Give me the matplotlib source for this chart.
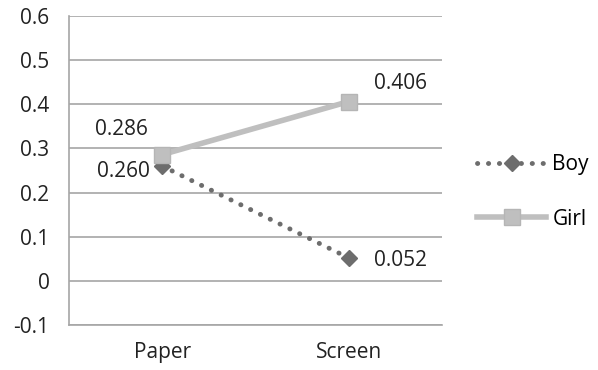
import numpy as np
import matplotlib.pyplot as plt

plt.rcParams['font.family'] = ['Open Sans', 'DejaVu Sans']

categories = ['Paper', 'Screen']
boy = [0.260, 0.052]
girl = [0.286, 0.406]
boy_labels = ['0.260', '0.052']
girl_labels = ['0.286', '0.406']

fig = plt.figure(figsize=(5.98, 3.70), dpi=100)
ax = fig.add_axes([0.1154, 0.1216, 0.6236, 0.8354])

x = np.arange(len(categories))
fs = 15

ax.plot(x, boy, color='#6d6d6d', linewidth=3.5, linestyle=(0, (0.05, 2.2)),
        dash_capstyle='round', marker='D', markersize=8, markeredgecolor='#6d6d6d',
        label='Boy', zorder=3)
ax.plot(x, girl, color='#bfbfbf', linewidth=4, marker='s', markersize=12,
        markeredgecolor='#b5b5b5', label='Girl', zorder=4)

# data labels
ax.annotate(girl_labels[0], (x[0], girl[0]), xytext=(-14, 25), textcoords='offset pixels',
            fontsize=fs, color='#222222', ha='right', va='center')
ax.annotate(boy_labels[0], (x[0], boy[0]), xytext=(-12, -5), textcoords='offset pixels',
            fontsize=fs, color='#222222', ha='right', va='center')
ax.annotate(girl_labels[1], (x[1], girl[1]), xytext=(25, 18), textcoords='offset pixels',
            fontsize=fs, color='#222222', ha='left', va='center')
ax.annotate(boy_labels[1], (x[1], boy[1]), xytext=(25, -3), textcoords='offset pixels',
            fontsize=fs, color='#222222', ha='left', va='center')

ax.set_xlim(-0.5, 1.5)
ax.set_ylim(-0.1, 0.6)
ax.set_xticks(x)
ax.set_xticklabels(categories)
ax.set_yticks(np.arange(-0.1, 0.61, 0.1))
ax.set_yticklabels(['-0.1', '0', '0.1', '0.2', '0.3', '0.4', '0.5', '0.6'])
ax.yaxis.grid(True, color='#a6a6a6', linewidth=1.2)
ax.set_axisbelow(True)
for s in ['top', 'right']:
    ax.spines[s].set_visible(False)
for s in ['left', 'bottom']:
    ax.spines[s].set_color('#a6a6a6')
    ax.spines[s].set_linewidth(1.2)
ax.tick_params(axis='y', length=0, labelsize=fs, pad=14, labelcolor='#222222')
ax.tick_params(axis='x', length=0, labelsize=fs, pad=12, labelcolor='#222222')

ax.legend(loc='center left', bbox_to_anchor=(1.045, 0.43), frameon=False, fontsize=fs,
          handlelength=3.3, labelspacing=1.6, handletextpad=0.3)

fig.savefig('out.png', dpi=100)
